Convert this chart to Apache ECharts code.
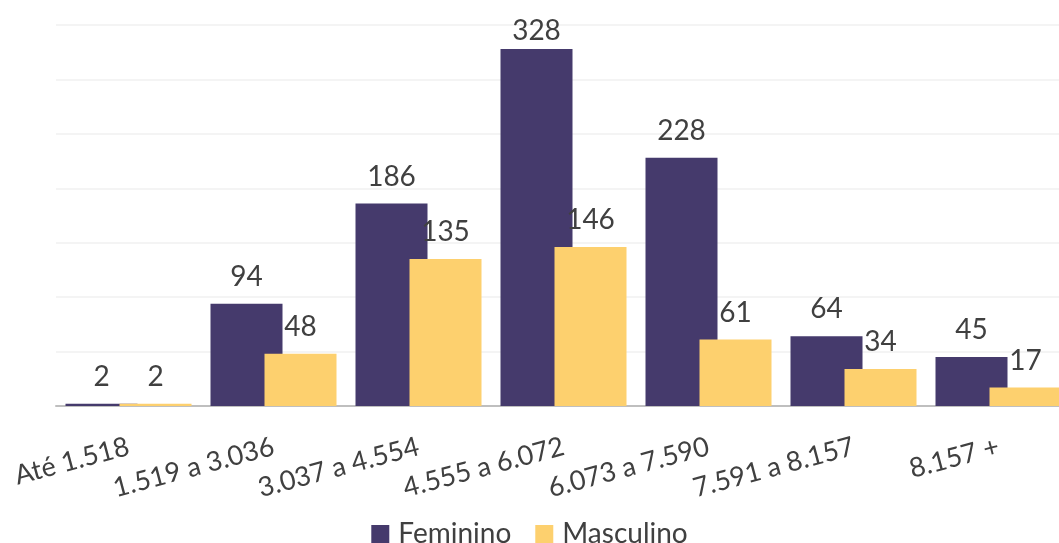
<!DOCTYPE html>
<html>
<head>
<meta charset="utf-8">
<script src="https://cdn.jsdelivr.net/npm/echarts@6/dist/echarts.min.js"></script>
<style>
html,body{margin:0;padding:0;background:#fff;}
#chart{width:1059px;height:543px;}
</style>
</head>
<body>
<div id="chart"></div>
<script>
const categories = ['Até 1.518', '1.519 a 3.036', '3.037 a 4.554', '4.555 a 6.072', '6.073 a 7.590', '7.591 a 8.157', '8.157 +'];
const feminino = [2, 94, 186, 328, 228, 64, 45];
const masculino = [2, 48, 135, 146, 61, 34, 17];
const seriesNames = ['Feminino', 'Masculino'];

const FONT = 'Lato';
const TXT = '#404040';
const yMax = 350;

// labels near the top of the plot are pulled closer to the bar (as in the reference)
function withLabels(arr) {
  return arr.map(v => v > 300 ? { value: v, label: { distance: 4 } } : v);
}

const chart = echarts.init(document.getElementById('chart'));
chart.setOption({
  animation: false,
  backgroundColor: '#ffffff',
  grid: { left: 56, width: 1015, top: 25, bottom: 137, containLabel: false, outerBoundsMode: 'none' },
  legend: {
    data: seriesNames,
    top: 515,
    left: 'center',
    icon: 'rect',
    itemWidth: 18,
    itemHeight: 18,
    itemGap: 24,
    textStyle: { fontFamily: FONT, fontSize: 28, color: TXT, padding: [0, 0, 0, 4] }
  },
  xAxis: {
    type: 'category',
    data: categories,
    axisLine: { lineStyle: { color: '#bfbfbf', width: 2 } },
    axisTick: { show: false },
    axisLabel: {
      interval: 0,
      rotate: 15,
      margin: 40,
      fontFamily: FONT,
      fontSize: 27,
      color: TXT
    }
  },
  yAxis: {
    type: 'value',
    min: 0,
    max: yMax,
    interval: 50,
    axisLabel: { show: false },
    axisLine: { show: false },
    axisTick: { show: false },
    splitLine: { lineStyle: { color: '#f0f0f0', width: 1.5 } }
  },
  series: [
    {
      name: seriesNames[0],
      type: 'bar',
      data: withLabels(feminino),
      barWidth: 72,
      barGap: '-25%',
      itemStyle: { color: '#453a6c' },
      label: { show: true, position: 'top', distance: 13, fontFamily: FONT, fontSize: 28, color: TXT }
    },
    {
      name: seriesNames[1],
      type: 'bar',
      data: withLabels(masculino),
      barWidth: 72,
      barGap: '-25%',
      itemStyle: { color: '#fdd06e' },
      label: { show: true, position: 'top', distance: 13, fontFamily: FONT, fontSize: 28, color: TXT }
    }
  ]
});
</script>
</body>
</html>
